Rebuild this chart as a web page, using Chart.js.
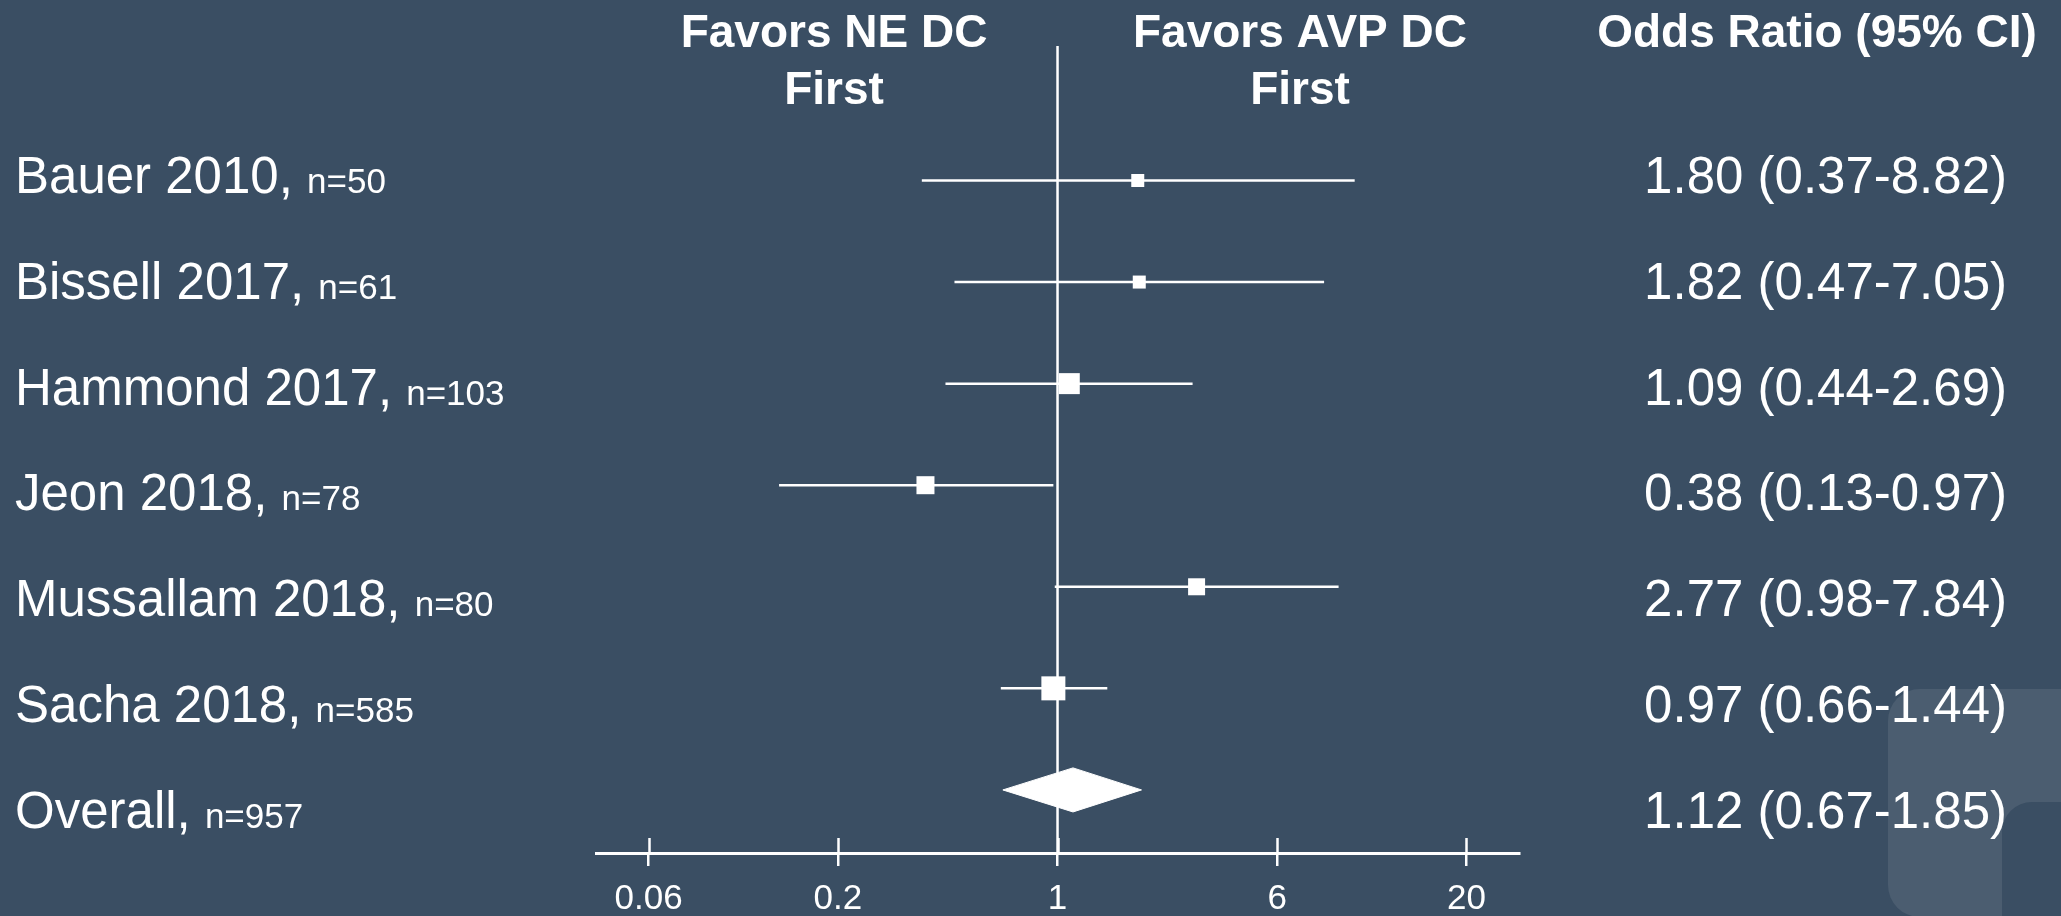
<!DOCTYPE html>
<html>
<head>
<meta charset="utf-8">
<script src="https://cdn.jsdelivr.net/npm/chart.js@4.4.0/dist/chart.umd.min.js"></script>
<style>
  html, body { margin: 0; padding: 0; background: #3a4e63; }
  canvas { display: block; }
</style>
</head>
<body>
<canvas id="forest" width="2061" height="916"></canvas>
<script>
// forest plot: odds ratios of AVP vs NE discontinuation order

const studies = ['Bauer 2010', 'Bissell 2017', 'Hammond 2017', 'Jeon 2018', 'Mussallam 2018', 'Sacha 2018', 'Overall'];
const sampleSizes = [50, 61, 103, 78, 80, 585, 957];
const oddsRatios = [1.80, 1.82, 1.09, 0.38, 2.77, 0.97, 1.12];
const ciLower = [0.37, 0.47, 0.44, 0.13, 0.98, 0.66, 0.67];
const ciUpper = [8.82, 7.05, 2.69, 0.97, 7.84, 1.44, 1.85];
const weights = [8.6, 8.6, 22.4, 16.5, 14.7, 29.3]; // % weight, sets marker size
const tickValues = [0.05, 0.2, 1, 5, 20];
const tickLabels = ['0.06', '0.2', '1', '6', '20'];
const headerLeft = ['Favors NE DC', 'First'];
const headerRight = ['Favors AVP DC', 'First'];
const headerCI = 'Odds Ratio (95% CI)';

const BG = '#3a4e63';
const FG = '#ffffff';
const FONT = "'Liberation Sans', Arial, sans-serif";
Chart.defaults.font.family = FONT;

const Y_MIN = -1.324, Y_MAX = 6.621;
const overallIdx = studies.length - 1;

function roundRect(ctx, x, y, w, h, r) {
  ctx.beginPath();
  ctx.moveTo(x + r, y);
  ctx.arcTo(x + w, y, x + w, y + h, r);
  ctx.arcTo(x + w, y + h, x, y + h, r);
  ctx.arcTo(x, y + h, x, y, r);
  ctx.arcTo(x, y, x + w, y, r);
  ctx.closePath();
}

const fmt = v => v.toFixed(2);

const forestPlugin = {
  id: 'forestText',
  beforeDraw(chart) {
    const { ctx, width, height } = chart;
    ctx.save();
    ctx.fillStyle = BG;
    ctx.fillRect(0, 0, width, height);
    // faint logo corner bottom right
    ctx.fillStyle = '#4b5d70';
    roundRect(ctx, 1888, 689, 300, 228, 32);
    ctx.fill();
    ctx.fillStyle = BG;
    roundRect(ctx, 2002, 802, 200, 200, 30);
    ctx.fill();
    ctx.restore();
  },
  afterDraw(chart) {
    const { ctx, chartArea } = chart;
    const xs = chart.scales.x;
    ctx.save();

    // upper half of tick marks, crossing the axis
    ctx.strokeStyle = FG;
    ctx.lineWidth = 2.5;
    tickValues.forEach(v => {
      const px = Math.round(xs.getPixelForValue(v)) + 0.5;
      ctx.beginPath();
      ctx.moveTo(px, chartArea.bottom - 15);
      ctx.lineTo(px, chartArea.bottom);
      ctx.stroke();
    });

    ctx.fillStyle = FG;
    ctx.textBaseline = 'alphabetic';

    // headers
    ctx.font = `bold 46px ${FONT}`;
    ctx.textAlign = 'center';
    headerLeft.forEach((t, i) => ctx.fillText(t, 834, 47 + i * 57));
    headerRight.forEach((t, i) => ctx.fillText(t, 1300, 47 + i * 57));
    ctx.fillText(headerCI, 1817, 47);

    // study labels and OR text
    studies.forEach((name, i) => {
      const base = 193 + i * 105.8;
      ctx.textAlign = 'left';
      ctx.font = `51px ${FONT}`;
      const big = name + ', ';
      ctx.fillText(big, 15, base);
      const w = ctx.measureText(big).width;
      ctx.font = `35px ${FONT}`;
      ctx.fillText('n=' + sampleSizes[i], 15 + w, base);

      ctx.textAlign = 'right';
      ctx.font = `51px ${FONT}`;
      ctx.fillText(`${fmt(oddsRatios[i])} (${fmt(ciLower[i])}-${fmt(ciUpper[i])})`, 2007, base);
    });
    ctx.restore();
  }
};

const halfDiamond = 0.217;
const datasets = [];

// study markers, square area proportional to weight
datasets.push({
  data: weights.map((w, i) => ({ x: oddsRatios[i], y: i })),
  pointStyle: 'rect',
  pointRadius: weights.map(w => 4.434 * Math.sqrt(w) * Math.SQRT1_2),
  pointBackgroundColor: FG,
  pointBorderWidth: 0,
  showLine: false,
  order: 0
});

// pooled estimate diamond
datasets.push({
  data: [
    { x: ciLower[overallIdx], y: overallIdx },
    { x: oddsRatios[overallIdx], y: overallIdx - halfDiamond },
    { x: ciUpper[overallIdx], y: overallIdx },
    { x: oddsRatios[overallIdx], y: overallIdx + halfDiamond },
    { x: ciLower[overallIdx], y: overallIdx }
  ],
  showLine: true,
  fill: 'shape',
  backgroundColor: FG,
  borderColor: FG,
  borderWidth: 1,
  pointRadius: 0,
  tension: 0,
  order: 1
});

// confidence interval whiskers
weights.forEach((w, i) => {
  datasets.push({
    data: [{ x: ciLower[i], y: i }, { x: ciUpper[i], y: i }],
    showLine: true,
    borderColor: FG,
    borderWidth: 2.5,
    pointRadius: 0,
    order: 2
  });
});

// line of no effect
datasets.push({
  data: [{ x: 1, y: Y_MIN }, { x: 1, y: Y_MAX }],
  showLine: true,
  borderColor: FG,
  borderWidth: 2.5,
  pointRadius: 0,
  order: 3
});

new Chart(document.getElementById('forest'), {
  type: 'scatter',
  data: { datasets },
  options: {
    responsive: false,
    animation: false,
    layout: { padding: { left: 596, right: 542, top: 46, bottom: -16 } },
    plugins: {
      legend: { display: false },
      tooltip: { enabled: false }
    },
    scales: {
      x: {
        type: 'logarithmic',
        min: 0.034,
        max: 29.4,
        afterBuildTicks: scale => {
          scale.ticks = tickValues.map(v => ({ value: v }));
        },
        ticks: {
          color: FG,
          font: { size: 35 },
          padding: 12,
          autoSkip: false,
          maxRotation: 0,
          callback: (val, idx) => tickLabels[idx]
        },
        grid: {
          display: true,
          drawOnChartArea: false,
          drawTicks: true,
          tickLength: 13,
          color: FG,
          lineWidth: 2.5
        },
        border: { display: true, color: FG, width: 3 }
      },
      y: {
        display: false,
        reverse: true,
        min: Y_MIN,
        max: Y_MAX
      }
    }
  },
  plugins: [forestPlugin]
});
</script>
</body>
</html>
